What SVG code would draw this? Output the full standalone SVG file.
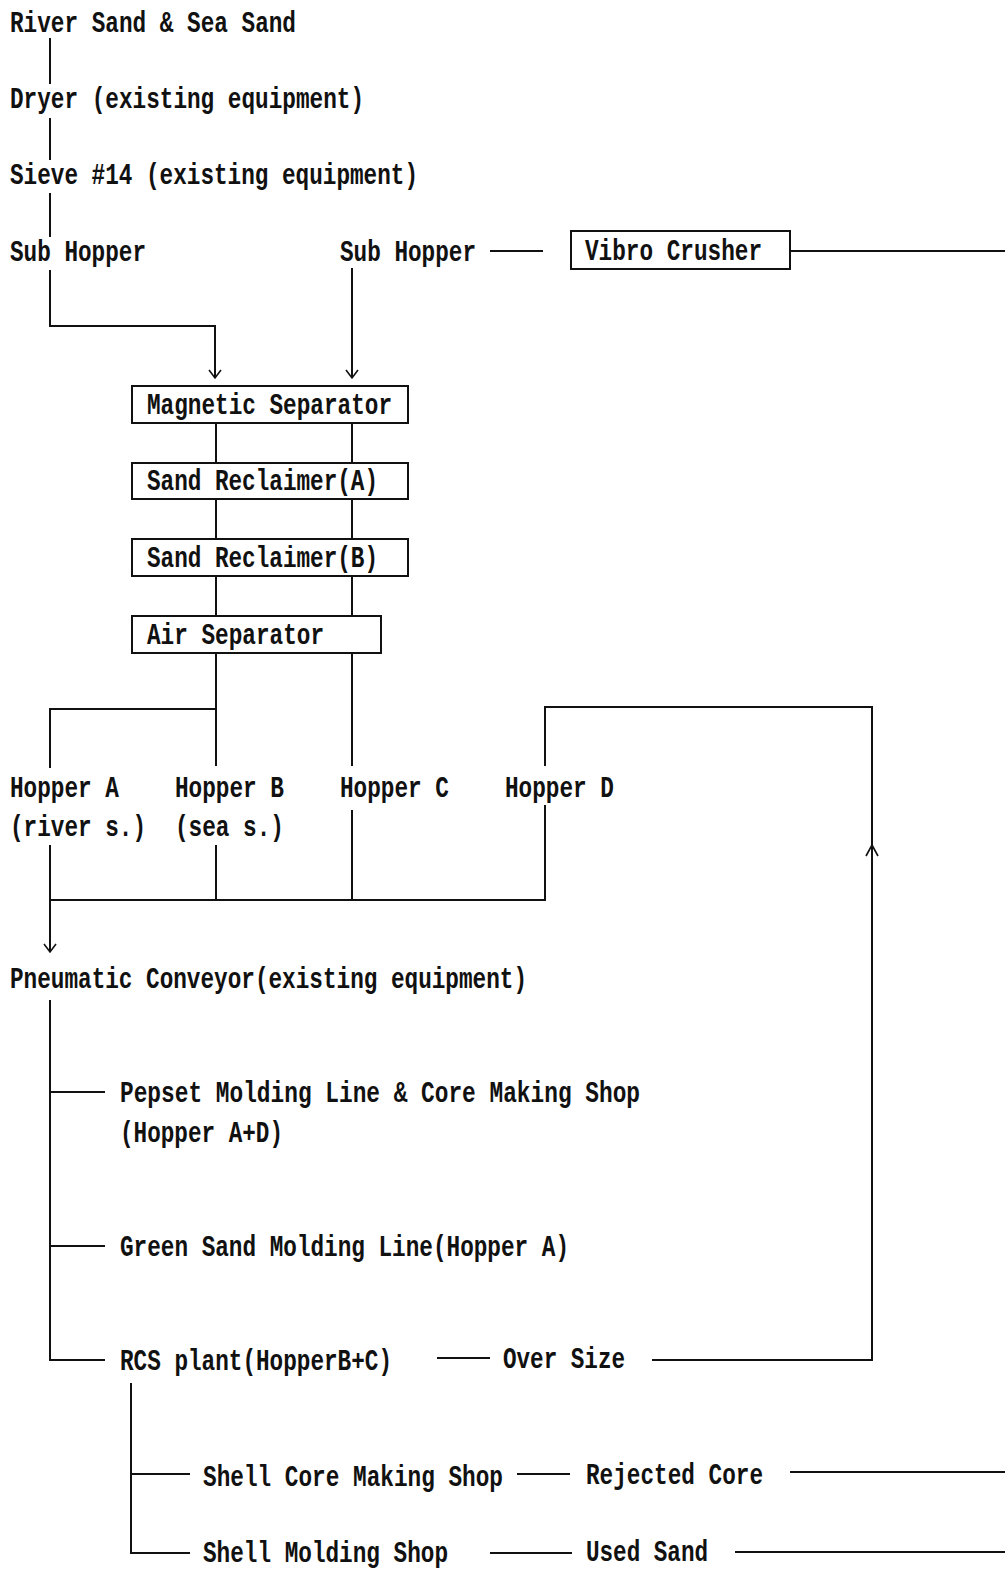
<svg xmlns="http://www.w3.org/2000/svg" width="1005" height="1572" viewBox="0 0 1005 1572">
<style>
text{font-family:"Liberation Mono","DejaVu Sans Mono",monospace;font-size:29px;font-weight:bold;fill:#111}
.c{stroke:#111;stroke-width:2;fill:none}
.box{stroke:#111;stroke-width:2;fill:none}
.ah{stroke:#111;stroke-width:1.6;fill:none}
</style>
<rect width="1005" height="1572" fill="#fff"/>
<g id="connectors">
<path class="c" d="M50 38V84M50 118V160M50 193V237"/>
<path class="c" d="M50 270V326H215V378"/>
<path class="c" d="M352 268V378"/>
<path class="ah" d="M209 370L215 378L221 370M346 370L352 378L358 370"/>
<path class="c" d="M490 251H543M790 251H1005"/>
<path class="c" d="M216 423V463M352 423V463M216 499V539M352 499V539M216 576V616M352 576V616"/>
<path class="c" d="M216 653V766M352 653V766M216 709H50V768"/>
<path class="c" d="M545 766V707H872V1360H652"/>
<path class="ah" d="M866 856L872 845L878 856"/>
<path class="c" d="M50 845V952M216 845V900M352 810V900M545 805V900H50"/>
<path class="ah" d="M44 944L50 952L56 944"/>
<path class="c" d="M50 1000V1360H105M50 1092H105M50 1246H105"/>
<path class="c" d="M437 1358H490"/>
<path class="c" d="M131 1383V1553H190M131 1474H190"/>
<path class="c" d="M517 1474H570M790 1472H1005"/>
<path class="c" d="M490 1553H572M735 1552H1005"/>
</g>
<g id="n-river"><text x="10" y="32" textLength="286" lengthAdjust="spacingAndGlyphs">River Sand &amp; Sea Sand</text></g>
<g id="n-dryer"><text x="10" y="108" textLength="354" lengthAdjust="spacingAndGlyphs">Dryer (existing equipment)</text></g>
<g id="n-sieve"><text x="10" y="184" textLength="408" lengthAdjust="spacingAndGlyphs">Sieve #14 (existing equipment)</text></g>
<g id="n-subhopper1"><text x="10" y="261" textLength="136" lengthAdjust="spacingAndGlyphs">Sub Hopper</text></g>
<g id="n-subhopper2"><text x="340" y="261" textLength="136" lengthAdjust="spacingAndGlyphs">Sub Hopper</text></g>
<g id="n-vibro"><rect class="box" x="571" y="231" width="219" height="38"/><text x="585" y="260" textLength="177" lengthAdjust="spacingAndGlyphs">Vibro Crusher</text></g>
<g id="n-magnetic"><rect class="box" x="132" y="386" width="276" height="37"/><text x="147" y="414" textLength="245" lengthAdjust="spacingAndGlyphs">Magnetic Separator</text></g>
<g id="n-reclA"><rect class="box" x="132" y="463" width="276" height="36"/><text x="147" y="490" textLength="231" lengthAdjust="spacingAndGlyphs">Sand Reclaimer(A)</text></g>
<g id="n-reclB"><rect class="box" x="132" y="539" width="276" height="37"/><text x="147" y="567" textLength="231" lengthAdjust="spacingAndGlyphs">Sand Reclaimer(B)</text></g>
<g id="n-air"><rect class="box" x="132" y="616" width="249" height="37"/><text x="147" y="644" textLength="177" lengthAdjust="spacingAndGlyphs">Air Separator</text></g>
<g id="n-hopperA"><text x="10" y="797" textLength="109" lengthAdjust="spacingAndGlyphs">Hopper A</text><text x="10" y="836" textLength="136" lengthAdjust="spacingAndGlyphs">(river s.)</text></g>
<g id="n-hopperB"><text x="175" y="797" textLength="109" lengthAdjust="spacingAndGlyphs">Hopper B</text><text x="175" y="836" textLength="109" lengthAdjust="spacingAndGlyphs">(sea s.)</text></g>
<g id="n-hopperC"><text x="340" y="797" textLength="109" lengthAdjust="spacingAndGlyphs">Hopper C</text></g>
<g id="n-hopperD"><text x="505" y="797" textLength="109" lengthAdjust="spacingAndGlyphs">Hopper D</text></g>
<g id="n-pneumatic"><text x="10" y="988" textLength="517" lengthAdjust="spacingAndGlyphs">Pneumatic Conveyor(existing equipment)</text></g>
<g id="n-pepset"><text x="120" y="1102" textLength="520" lengthAdjust="spacingAndGlyphs">Pepset Molding Line &amp; Core Making Shop</text><text x="120" y="1142" textLength="163" lengthAdjust="spacingAndGlyphs">(Hopper A+D)</text></g>
<g id="n-green"><text x="120" y="1256" textLength="449" lengthAdjust="spacingAndGlyphs">Green Sand Molding Line(Hopper A)</text></g>
<g id="n-rcs"><text x="120" y="1370" textLength="272" lengthAdjust="spacingAndGlyphs">RCS plant(HopperB+C)</text></g>
<g id="n-oversize"><text x="503" y="1368" textLength="122" lengthAdjust="spacingAndGlyphs">Over Size</text></g>
<g id="n-shellcore"><text x="203" y="1486" textLength="300" lengthAdjust="spacingAndGlyphs">Shell Core Making Shop</text></g>
<g id="n-rejected"><text x="586" y="1484" textLength="177" lengthAdjust="spacingAndGlyphs">Rejected Core</text></g>
<g id="n-shellmold"><text x="203" y="1562" textLength="245" lengthAdjust="spacingAndGlyphs">Shell Molding Shop</text></g>
<g id="n-usedsand"><text x="586" y="1561" textLength="122" lengthAdjust="spacingAndGlyphs">Used Sand</text></g>
</svg>
